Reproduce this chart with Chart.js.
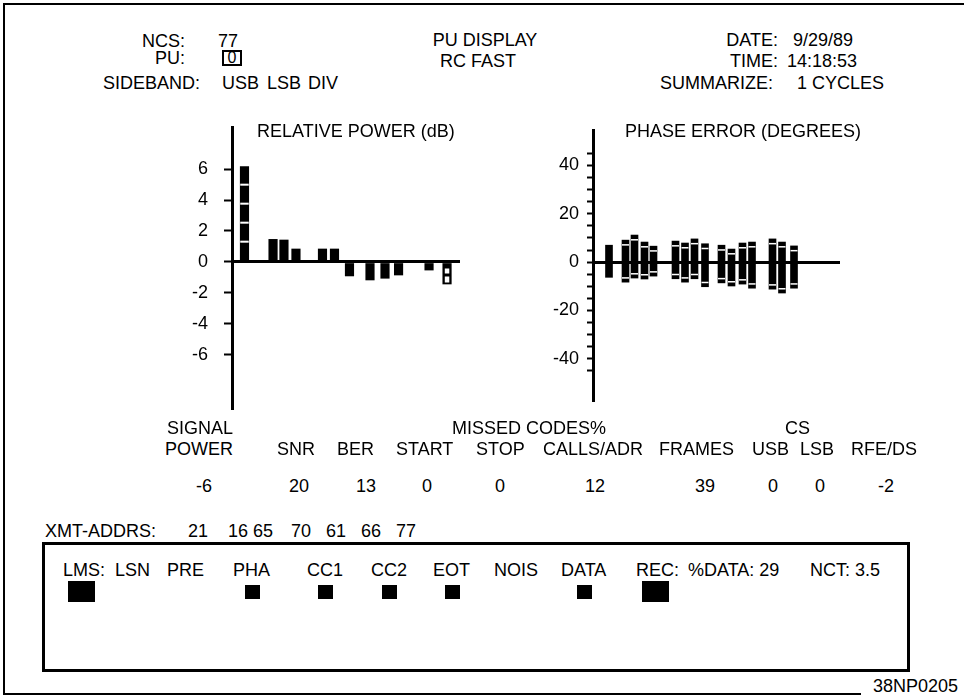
<!DOCTYPE html>
<html>
<head>
<script src="https://cdn.jsdelivr.net/npm/chart.js@4.4.1/dist/chart.umd.min.js"></script>
<title>PU Display</title>
<style>
  body { margin: 0; background: #fff; }
  #page { position: relative; width: 964px; height: 698px; overflow: hidden; background: #fff;
          font-family: "Liberation Sans", Arial, sans-serif; font-size: 18px; color: #000; }
  .t { position: absolute; white-space: pre; line-height: 18px; }
  .bx { position: absolute; box-sizing: border-box; }
  .ln { position: absolute; background: #000; }
  .sq { position: absolute; background: #000; }
  canvas { position: absolute; }
</style>
</head>
<body>
<div id="page">
  <canvas id="power" width="340" height="300" style="left:140px;top:120px"></canvas>
  <canvas id="phase" width="360" height="290" style="left:500px;top:120px"></canvas>
</div>
<script>
// relative power bars (dB), x = channel slot
const powerX = [1.04, 3.42, 4.33, 5.33, 7.54, 8.54, 9.79, 11.5, 12.75, 13.88, 16.42, 17.92];
const powerDb = [6.15, 1.46, 1.42, 0.84, 0.84, 0.84, -0.90, -1.16, -1.05, -0.84, -0.52, -1.42];
const powerMark = ['dash', '', '', '', '', '', '', '', '', '', '', 'box'];
const powerTicks = [-6, -4, -2, 0, 2, 4, 6];

// phase error ranges (degrees)
const phaseX = [1.6, 3.25, 4.15, 5.15, 6.05, 8.25, 9.2, 10.15, 11.2, 12.85, 13.85, 14.95, 15.9, 17.95, 18.9, 20.1];
const phaseHigh = [7.0, 9.1, 11.2, 8.3, 6.6, 8.7, 7.9, 9.6, 7.6, 7.0, 5.4, 7.9, 8.3, 9.6, 8.3, 6.7];
const phaseLow = [-6.3, -8.3, -6.6, -7.0, -5.8, -6.9, -8.3, -6.9, -10.2, -8.6, -9.9, -9.1, -10.8, -11.2, -12.8, -10.8];
const phaseTicks = [-45, -40, -35, -30, -25, -20, -15, -10, -5, 0, 5, 10, 15, 20, 25, 30, 35, 40, 45];
const phaseLabels = [-40, -20, 0, 20, 40];

// table below the charts
const tableHeads = ['SNR', 'BER', 'START', 'STOP', 'CALLS/ADR', 'FRAMES', 'USB', 'LSB', 'RFE/DS'];
const tableValues = ['-6', '20', '13', '0', '0', '12', '39', '0', '0', '-2'];
const xmtAddrs = ['21', '16', '65', '70', '61', '66', '77'];
const lmsLabels = ['LMS:', 'LSN', 'PRE', 'PHA', 'CC1', 'CC2', 'EOT', 'NOIS', 'DATA', 'REC:'];
const lmsOn = ['big', '', '', 'small', 'small', 'small', 'small', '', 'small', 'big'];

const page = document.getElementById('page');

function txt(s, x, y, a) {
  const d = document.createElement('div');
  d.className = 't';
  d.textContent = s;
  d.style.left = x + 'px';
  d.style.top = (y - 9) + 'px';
  if (a === 'r') d.style.transform = 'translateX(-100%)';
  if (a === 'c') d.style.transform = 'translateX(-50%)';
  page.appendChild(d);
  return d;
}
function box(cls, x, y, w, h) {
  const d = document.createElement('div');
  d.className = cls;
  d.style.left = x + 'px'; d.style.top = y + 'px';
  d.style.width = w + 'px'; d.style.height = h + 'px';
  page.appendChild(d);
  return d;
}

// outer frame
box('ln', 3, 3, 961, 2);
box('ln', 3, 3, 2, 692);
box('ln', 3, 693, 858, 2);

// header
txt('NCS:', 185, 41, 'r'); txt('77', 218, 41);
txt('PU:', 185, 58, 'r');
const pu = box('bx', 222, 50, 20, 16);
pu.style.border = '2px solid #000';
pu.style.font = '16px "Liberation Sans", Arial, sans-serif'; pu.style.lineHeight = '12px';
pu.style.textAlign = 'center'; pu.textContent = '0';
txt('SIDEBAND:', 103, 83); txt('USB', 222, 83); txt('LSB', 267, 83); txt('DIV', 308, 83);
txt('PU DISPLAY', 485, 40, 'c'); txt('RC FAST', 478, 61, 'c');
txt('DATE:', 778, 40, 'r'); txt('9/29/89', 793, 40);
txt('TIME:', 778, 61, 'r'); txt('14:18:53', 787, 61);
txt('SUMMARIZE:', 773, 83, 'r'); txt('1 CYCLES', 797, 83);

// chart titles
txt('RELATIVE POWER (dB)', 257, 131);
txt('PHASE ERROR (DEGREES)', 625, 131);

// table
txt('SIGNAL', 167, 428); txt('MISSED CODES%', 452, 428); txt('CS', 785, 428);
txt('POWER', 165, 449);
const headX = [277, 337, 396, 476, 543, 659, 752, 800, 851];
tableHeads.forEach((h, i) => txt(h, headX[i], 449));
const valX = [204, 299, 366, 427, 500, 595, 705, 773, 820, 886];
tableValues.forEach((v, i) => txt(v, valX[i], 486, 'c'));

txt('XMT-ADDRS:', 45, 531);
const addrX = [188, 228, 253, 291, 326, 361, 396];
xmtAddrs.forEach((v, i) => txt(v, addrX[i], 531));

// LMS box
const lms = box('bx', 42, 542, 868, 130);
lms.style.border = '3px solid #000';
const lmsX = [63, 115, 167, 233, 307, 371, 433, 494, 561, 636];
lmsLabels.forEach((s, i) => {
  const d = txt(s, lmsX[i], 570);
  if (!lmsOn[i]) return;
  const c = lmsX[i] + d.offsetWidth / 2 - (s.endsWith(':') ? 3 : 0);
  if (lmsOn[i] === 'big') box('sq', Math.round(c - 13), 581, 27, 21);
  else box('sq', Math.round(c - 7), 585, 15, 14);
});
txt('%DATA: 29', 688, 570);
txt('NCT: 3.5', 810, 570);
txt('38NP0205', 873, 686);

// charts
Chart.defaults.font.family = '"Liberation Sans", Arial, sans-serif';
Chart.defaults.font.size = 18;
Chart.defaults.color = '#000';

const noPad = s => { s.paddingTop = 0; s.paddingBottom = 0; };

const powerDeco = {
  id: 'powerDeco',
  afterDatasetsDraw(chart) {
    const ctx = chart.ctx;
    chart.getDatasetMeta(0).data.forEach((bar, i) => {
      const left = bar.x - bar.width / 2;
      const top = Math.min(bar.y, bar.base), bottom = Math.max(bar.y, bar.base);
      ctx.fillStyle = '#fff';
      if (powerMark[i] === 'dash') {
        for (let y = top + 17; y < bottom - 6; y += 19) ctx.fillRect(left, y, bar.width, 2);
      }
      if (powerMark[i] === 'box') {
        ctx.fillRect(left + 2, top + 5, bar.width - 4, 5);
        ctx.fillRect(left + 2, top + 13, bar.width - 4, 6);
      }
    });
  }
};

new Chart(document.getElementById('power'), {
  type: 'bar',
  data: {
    datasets: [{
      data: powerX.map((x, i) => ({ x: x, y: powerDb[i] })),
      backgroundColor: '#000',
      borderWidth: 0,
      barThickness: 8.5
    }]
  },
  options: {
    responsive: false,
    animation: false,
    devicePixelRatio: 1,
    layout: { padding: { left: 0, top: 7, right: 20, bottom: 12 } },
    plugins: { legend: { display: false }, tooltip: { enabled: false } },
    scales: {
      x: { type: 'linear', display: false, offset: false, min: 0, max: 19 },
      y: {
        min: -9.42, max: 8.71,
        afterBuildTicks: s => { s.ticks = powerTicks.map(v => ({ value: v })); },
        afterFit: s => { s.width = 92; noPad(s); },
        border: { display: true, color: '#000', width: 3 },
        grid: {
          color: c => c.tick && c.tick.value === 0 ? '#000' : 'rgba(0,0,0,0)',
          lineWidth: 3, tickColor: '#000', tickWidth: 2, tickLength: 8
        },
        ticks: { padding: 16, autoSkip: false, font: { size: 18 } }
      }
    }
  },
  plugins: [powerDeco]
});

const phaseDeco = {
  id: 'phaseDeco',
  afterDatasetsDraw(chart) {
    const ctx = chart.ctx;
    chart.getDatasetMeta(0).data.forEach((bar, i) => {
      if (i === 0) return;
      const left = bar.x - bar.width / 2;
      const top = Math.min(bar.y, bar.base), bottom = Math.max(bar.y, bar.base);
      ctx.fillStyle = '#fff';
      ctx.fillRect(left, top + 4, bar.width, 1.5);
      ctx.fillRect(left, bottom - 5, bar.width, 1.5);
    });
  }
};

new Chart(document.getElementById('phase'), {
  type: 'bar',
  data: {
    datasets: [{
      data: phaseX.map((x, i) => ({ x: x, y: [phaseLow[i], phaseHigh[i]] })),
      backgroundColor: '#000',
      borderWidth: 0,
      borderSkipped: false,
      barThickness: 7
    }]
  },
  options: {
    responsive: false,
    animation: false,
    devicePixelRatio: 1,
    layout: { padding: { left: 0, top: 10, right: 20, bottom: 10 } },
    plugins: { legend: { display: false }, tooltip: { enabled: false } },
    scales: {
      x: { type: 'linear', display: false, offset: false, min: 0, max: 24.7 },
      y: {
        min: -57.1, max: 54.7,
        afterBuildTicks: s => { s.ticks = phaseTicks.map(v => ({ value: v })); },
        afterFit: s => { s.width = 93; noPad(s); },
        border: { display: true, color: '#000', width: 3 },
        grid: {
          color: c => c.tick && c.tick.value === 0 ? '#000' : 'rgba(0,0,0,0)',
          lineWidth: 3, tickColor: '#000', tickWidth: 2, tickLength: 6
        },
        ticks: {
          padding: 8,
          autoSkip: false,
          font: { size: 18 },
          callback: v => phaseLabels.includes(v) ? String(v) : ''
        }
      }
    }
  },
  plugins: [phaseDeco]
});
</script>
</body>
</html>
